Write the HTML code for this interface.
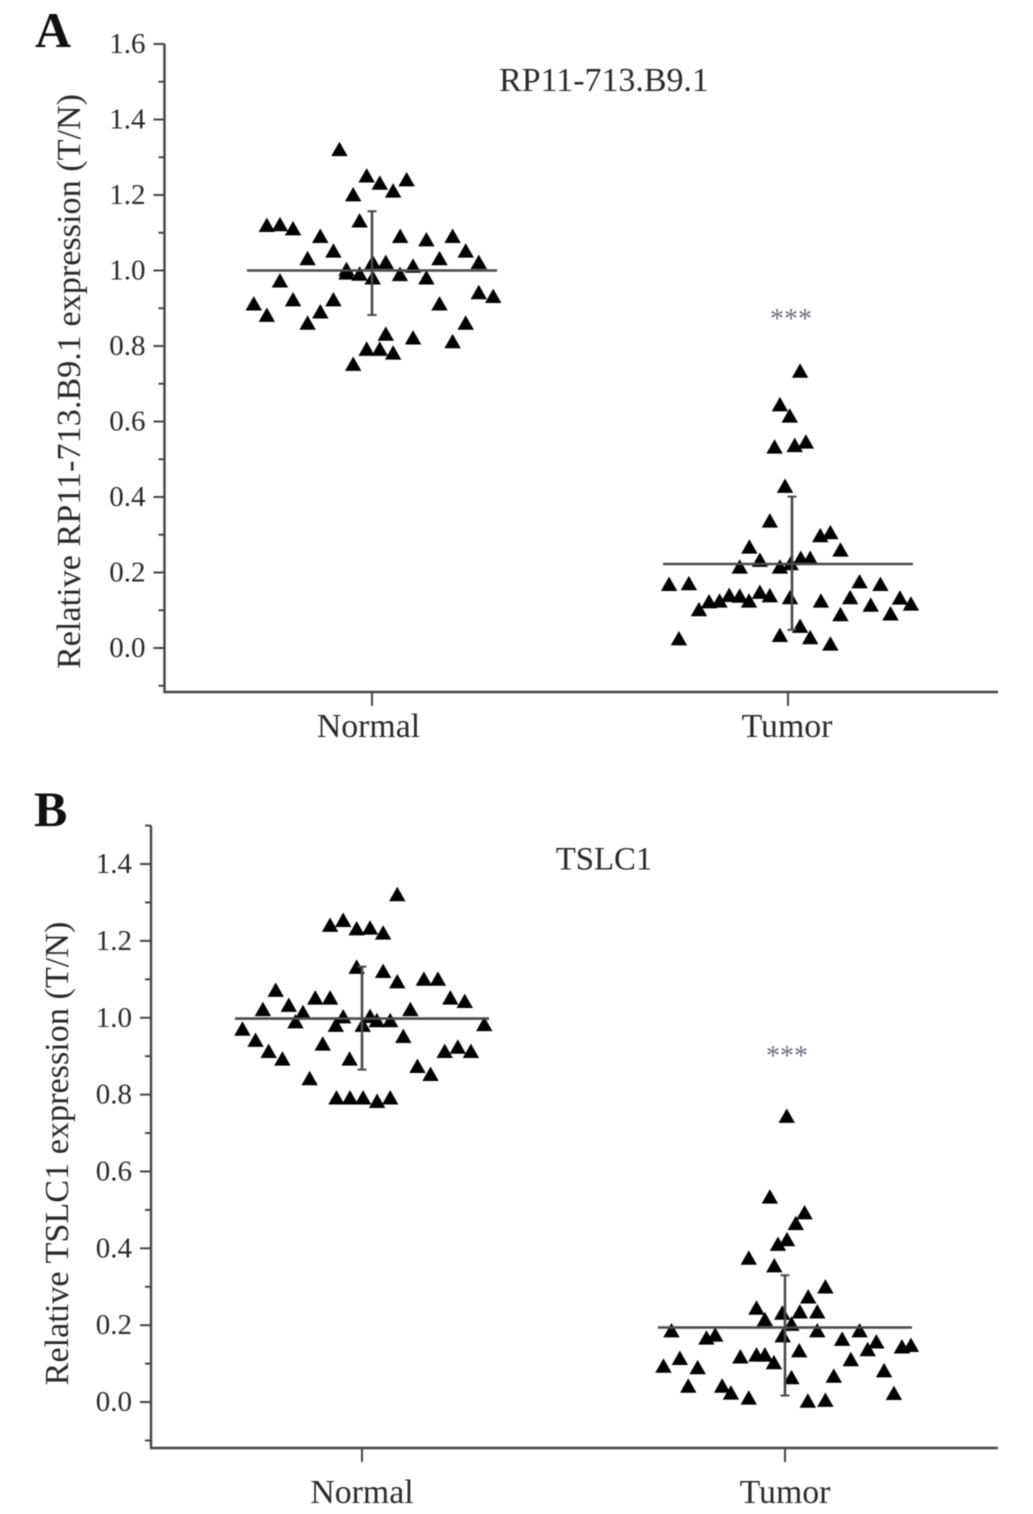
<!DOCTYPE html>
<html lang="en">
<head>
<meta charset="utf-8">
<title>Relative expression of RP11-713.B9.1 and TSLC1</title>
<style>
  html, body { margin: 0; padding: 0; background: #fff; }
  #figure { display: block; width: 1033px; height: 1514px; filter: blur(0.45px); }
  text { font-family: "Liberation Serif", serif; fill: #2a2a2a; }
  .axis { stroke: #444; stroke-width: 2.4; fill: none; }
  .tick { stroke: #444; stroke-width: 2; }
  .stat { stroke: #4a4a4a; stroke-width: 2.6; fill: none; }
  .cap { stroke: #4a4a4a; stroke-width: 2; }
  .mark { fill: #000; }
</style>
</head>
<body>
<svg id="figure" xmlns="http://www.w3.org/2000/svg" width="1033" height="1514" viewBox="0 0 1033 1514">
  <rect x="0" y="0" width="1033" height="1514" fill="#fff"/>

  <g id="panel-a">
    <text x="35" y="47" font-size="50" font-weight="bold" style="fill:#111">A</text>
    <text x="604" y="91" font-size="33.9" text-anchor="middle">RP11-713.B9.1</text>
    <text transform="translate(80,381.5) rotate(-90)" font-size="34.2" text-anchor="middle">Relative RP11-713.B9.1 expression (T/N)</text>
    <text x="791" y="328" font-size="28" text-anchor="middle" style="fill:#70717e">***</text>
  </g>

  <g id="panel-b">
    <text x="34" y="826" font-size="50" font-weight="bold" style="fill:#111">B</text>
    <text x="604" y="869.5" font-size="32.8" text-anchor="middle">TSLC1</text>
    <text transform="translate(68,1153.5) rotate(-90)" font-size="34.2" text-anchor="middle">Relative TSLC1 expression (T/N)</text>
    <text x="787" y="1065" font-size="28" text-anchor="middle" style="fill:#70717e">***</text>
  </g>
</svg>

<script>
// Shared data
var categories = ['Normal', 'Tumor'];
var tickLabelsA = ['0.0', '0.2', '0.4', '0.6', '0.8', '1.0', '1.2', '1.4', '1.6'];
var tickLabelsB = ['0.0', '0.2', '0.4', '0.6', '0.8', '1.0', '1.2', '1.4'];
var minorTicksA = [-0.1, 0.1, 0.3, 0.5, 0.7, 0.9, 1.1, 1.3, 1.5];
var minorTicksB = [-0.1, 0.1, 0.3, 0.5, 0.7, 0.9, 1.1, 1.3, 1.5];

// Panel A: mean and error limits per category
var meansA = [1.0, 0.2225];
var errorHighA = [1.157, 0.401];
var errorLowA = [0.882, 0.048];
var errorCategoryA = [0, 1.0096];

// Panel A: swarm column and relative expression per sample
var normalColumnsA = [-2.54, -0.46, 0.54, 1.56, 2.59, -1.49, -1, -8.08, -7.08, -6.08, -4, -3, -4.97, 2.1, 4.1, 6.1, 7.1, 5.1, 8.1, 3.08, 1, 0, -2, -2, -1, 0, 2.08, 4.1, -7.08, -9.08, -8.08, -6.08, -4, -3, -4.97, 5.1, 8.1, 9.2, 7.1, 6.1, 3.08, 1, -0.46, 0.54, 1.56, -1.49];
var normalValuesA = [1.321, 1.251, 1.232, 1.211, 1.241, 1.201, 1.132, 1.12, 1.122, 1.111, 1.091, 1.052, 1.032, 1.091, 1.082, 1.091, 1.052, 1.032, 1.022, 1.012, 1.022, 1.022, 1.003, 0.994, 0.991, 0.981, 0.99, 0.981, 0.973, 0.912, 0.882, 0.923, 0.891, 0.923, 0.861, 0.912, 0.942, 0.932, 0.861, 0.812, 0.822, 0.832, 0.792, 0.792, 0.782, 0.752];
var tumorColumnsA = [0.87, -0.67, 0.08, -1.08, 0.46, 1.31, -0.28, -1.44, 2.41, 3.18, -3, 3.95, -2.2, -3.74, -0.67, 0.15, 0.92, 1.64, -9.13, -7.62, 5.41, 7, -6.85, -6.08, -5.28, -4.54, -3.74, -3.03, -2.2, -1.44, 0.1, 2.46, 4.69, 6.26, 3.95, 7.77, 8.49, 9.33, -8.38, -0.67, 0.87, 1.64, 3.18];
var tumorValuesA = [0.734, 0.645, 0.615, 0.533, 0.537, 0.546, 0.429, 0.337, 0.298, 0.306, 0.268, 0.26, 0.233, 0.215, 0.215, 0.224, 0.238, 0.238, 0.169, 0.171, 0.176, 0.169, 0.102, 0.123, 0.125, 0.14, 0.138, 0.125, 0.148, 0.139, 0.134, 0.125, 0.134, 0.114, 0.089, 0.091, 0.133, 0.117, 0.025, 0.034, 0.058, 0.028, 0.011];

// Panel B: mean and error limits per category
var meansB = [0.998, 0.194];
var errorHighB = [1.133, 0.33];
var errorLowB = [0.865, 0.017];
var errorCategoryB = [0, 1];

// Panel B: swarm column and relative expression per sample
var normalColumnsB = [2.64, -2.49, -1.49, -0.46, 0.56, 1.56, -0.46, 1.56, 2.64, 4.67, 5.74, -6.64, -3.62, -2.49, 6.69, 7.79, -7.62, -5.64, -4.56, 3.64, -5.13, -1.49, -2.05, 0.56, 0, 1.08, 2.1, 9.28, -9.18, -8.18, -7.18, -6.13, -3.05, 3.1, -1, 6.26, 7.26, 8.26, 4.18, 5.18, -4.05, -2, -0.97, 0.03, 1.1, 2.1];
var normalValuesB = [1.321, 1.241, 1.254, 1.232, 1.234, 1.221, 1.132, 1.121, 1.094, 1.101, 1.101, 1.072, 1.052, 1.052, 1.052, 1.043, 1.022, 1.033, 1.014, 1.022, 0.99, 1.003, 0.981, 1.004, 0.981, 0.993, 0.993, 0.983, 0.971, 0.942, 0.913, 0.893, 0.932, 0.952, 0.893, 0.913, 0.924, 0.913, 0.874, 0.853, 0.842, 0.792, 0.792, 0.792, 0.783, 0.792];
var tumorColumnsB = [0.08, -1.21, 1.44, 0.77, 0.1, -0.59, -2.82, -0.87, 3.03, 1.72, -2.23, -0.26, 1.08, 2.41, -1.59, 0.44, -8.72, -6.05, -5.38, 2.41, 5.64, -0.23, 4.31, 6.92, 6.26, 8.87, 9.56, 1.03, -8.08, -3.46, -2.23, -1.59, -0.9, 4.97, -9.33, -6.72, 7.51, 0.44, 3.67, -7.44, -4.85, -4.18, -2.82, 1.69, 3.03, 8.26];
var tumorValuesB = [0.744, 0.534, 0.493, 0.465, 0.423, 0.411, 0.375, 0.355, 0.3, 0.274, 0.245, 0.232, 0.235, 0.235, 0.215, 0.203, 0.186, 0.167, 0.175, 0.186, 0.186, 0.173, 0.164, 0.157, 0.137, 0.144, 0.148, 0.134, 0.114, 0.118, 0.123, 0.123, 0.103, 0.111, 0.094, 0.09, 0.082, 0.064, 0.068, 0.042, 0.042, 0.024, 0.011, 0.003, 0.005, 0.023];

var SVG_NS = 'http://www.w3.org/2000/svg';

function svgEl(parent, tag, cls) {
  var el = document.createElementNS(SVG_NS, tag);
  if (cls) el.setAttribute('class', cls);
  parent.appendChild(el);
  return el;
}

function hLine(parent, cls, x1, x2, y) {
  var l = svgEl(parent, 'line', cls);
  l.setAttribute('x1', x1);
  l.setAttribute('x2', x2);
  l.setAttribute('y1', y);
  l.setAttribute('y2', y);
  return l;
}

function vLine(parent, cls, x, y1, y2) {
  var l = svgEl(parent, 'line', cls);
  l.setAttribute('x1', x);
  l.setAttribute('x2', x);
  l.setAttribute('y1', y1);
  l.setAttribute('y2', y2);
  return l;
}

function drawPanel(cfg) {
  var g = document.getElementById(cfg.id);
  var yScale = function (v) { return cfg.y0 + (cfg.yMax - v) * cfg.pxPerUnit; };
  var xScale = function (c) { return cfg.x0 + (cfg.x1 - cfg.x0) * c; };

  // Axis frame
  var frame = svgEl(g, 'path', 'axis');
  
  
  frame.setAttribute('d', 'M' + cfg.axisX + ' ' + yScale(cfg.yMax) + 'V' + cfg.axisY + 'H998');

  // Major ticks and labels
  cfg.tickLabels.forEach(function (label) {
    var v = parseFloat(label);
    var y = yScale(v);
    var t = hLine(g, 'tick', cfg.axisX - 11, cfg.axisX, y);
    
    
    var txt = svgEl(g, 'text');
    
    
    txt.setAttribute('x', cfg.axisX - 19);
    txt.setAttribute('y', y + 9);
    txt.setAttribute('font-size', '29');
    txt.setAttribute('text-anchor', 'end');
    txt.textContent = label;
  });

  // Minor ticks
  cfg.minorTicks.forEach(function (v) {
    var t = hLine(g, 'tick', cfg.axisX - 6, cfg.axisX, yScale(v));
    
    
  });

  // Category ticks and labels
  categories.forEach(function (name, i) {
    var x = xScale(i);
    var t = vLine(g, 'tick', x, cfg.axisY, cfg.axisY + 14);
    
    
    var txt = svgEl(g, 'text');
    
    
    txt.setAttribute('x', x + cfg.labelShift[i]);
    txt.setAttribute('y', cfg.axisY + cfg.labelDrop);
    txt.setAttribute('font-size', '33.8');
    txt.setAttribute('text-anchor', 'middle');
    txt.textContent = name;
  });

  // Triangles for every sample
  cfg.series.forEach(function (s) {
    s.columns.forEach(function (col, i) {
      var cx = xScale(s.category) + col * cfg.colWidth + 0.7;
      var cy = yScale(s.values[i]);
      var p = svgEl(g, 'polygon', 'mark');
      
      
      p.setAttribute('points', cx + ',' + (cy - 7.6) + ' ' + (cx + 8.2) + ',' + (cy + 6.8) + ' ' + (cx - 8.2) + ',' + (cy + 6.8));
    });
  });

  // Mean lines and error bars
  categories.forEach(function (name, i) {
    var mx = xScale(i);
    var m = hLine(g, 'stat', mx - cfg.meanHalf, mx + cfg.meanHalf, yScale(cfg.means[i]));
    
    
    var ex = xScale(cfg.errorCategory[i]);
    var top = yScale(cfg.errorHigh[i]);
    var bottom = yScale(cfg.errorLow[i]);
    var e = vLine(g, 'stat', ex, top, bottom);
    
    
    var c1 = hLine(g, 'cap', ex - 4.5, ex + 4.5, top);
    
    
    var c2 = hLine(g, 'cap', ex - 4.5, ex + 4.5, bottom);
    
    
  });
}

drawPanel({
  id: 'panel-a', y0: 44, yMax: 1.6, pxPerUnit: 377.5,
  axisX: 164.5, axisY: 692, x0: 372, x1: 788, colWidth: 13.1, meanHalf: 125,
  labelShift: [-3.5, -1], labelDrop: 45,
  tickLabels: tickLabelsA, minorTicks: minorTicksA,
  means: meansA, errorHigh: errorHighA, errorLow: errorLowA, errorCategory: errorCategoryA,
  series: [
    { category: 0, columns: normalColumnsA, values: normalValuesA },
    { category: 1, columns: tumorColumnsA, values: tumorValuesA }
  ]
});

drawPanel({
  id: 'panel-b', y0: 825.6, yMax: 1.5, pxPerUnit: 384.3,
  axisX: 151, axisY: 1448, x0: 362, x1: 785, colWidth: 13.1, meanHalf: 127,
  labelShift: [0, 0], labelDrop: 55,
  tickLabels: tickLabelsB, minorTicks: minorTicksB,
  means: meansB, errorHigh: errorHighB, errorLow: errorLowB, errorCategory: errorCategoryB,
  series: [
    { category: 0, columns: normalColumnsB, values: normalValuesB },
    { category: 1, columns: tumorColumnsB, values: tumorValuesB }
  ]
});
</script>
</body>
</html>
